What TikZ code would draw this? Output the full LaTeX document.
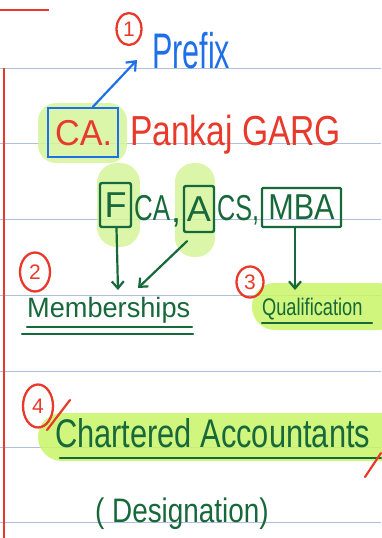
\documentclass[tikz,border=0pt]{standalone}
\usepackage{fontspec}
\setmainfont{Liberation Sans}
\usetikzlibrary{arrows.meta,shapes.geometric}
\definecolor{inkred}{HTML}{E8392B}
\definecolor{inkblue}{HTML}{1F6FE8}
\definecolor{inkgreen}{HTML}{17683A}
\definecolor{hl}{HTML}{D5F59A}
\definecolor{hlstrong}{HTML}{C8F467}
\definecolor{rulecol}{HTML}{AFC0DC}
\newcommand{\fs}[1]{\fontsize{#1}{#1}\selectfont}
\begin{document}
\begin{tikzpicture}[x=1pt,y=-1pt,
  rulel/.style={draw=rulecol, line width=1pt},
  hlblob/.style={fill=hl, opacity=0.85, rounded corners=18pt},
  gbox/.style={draw=inkgreen, line width=2.4pt, rounded corners=2pt, inner sep=0pt, text=inkgreen},
  garrow/.style={draw=inkgreen, line width=2.2pt, line cap=round, -{Straight Barb[length=7pt,width=12pt]}},
  num/.style={draw=inkred, line width=2.3pt, ellipse, inner sep=0pt, text=inkred, font=\fs{21}},
  gtext/.style={text=inkgreen, inner sep=0pt, anchor=base west},
  rtext/.style={text=inkred, inner sep=0pt, anchor=base west},
  uline/.style={draw=inkgreen, line width=2.4pt, line cap=round},
  slash/.style={draw=inkred, line width=2.2pt, line cap=round}
  ]
\useasboundingbox (0,0) rectangle (381,538);
\foreach \yy in {68,143,219,295,371,447,522} \draw[rulel] (0,\yy) -- (381,\yy);
\draw[inkred, line width=2.4pt] (4,68) -- (4,538);
\draw[inkred, line width=2.2pt] (0,10) -- (49,10);
% highlights
\fill[hlblob] (38,103) rectangle (127,163);
\fill[hlblob, rounded corners=20pt] (97,163) rectangle (140,247);
\fill[hlblob, rounded corners=19pt] (175,163) rectangle (215,257);
\fill[hlstrong, opacity=0.85, rounded corners=23pt] (252,283) rectangle (400,330);
\fill[hlstrong, opacity=0.85, rounded corners=24pt] (38,413) rectangle (405,461);
% top
\node[num, minimum width=25pt, minimum height=32pt] (n1) at (129,29) {1};
\node[text=inkblue, inner sep=0pt, anchor=base west, font=\fs{50}, xscale=0.61] (prefix) at (152,68) {Prefix};
\coordinate (prefixin) at (137,60);
\node[draw=inkblue, line width=2.6pt, inner sep=0pt, minimum width=70pt, minimum height=49pt] (cabox) at (83,132.5) {};
\node[rtext, font=\fs{36}, xscale=0.95] (ca) at (55,145) {CA.};
\node[rtext, font=\fs{42}, xscale=0.8] (name) at (130,145) {Pankaj GARG};
\draw[inkblue, line width=2.2pt, line cap=round, -{Straight Barb[length=8pt,width=13pt]}] ([xshift=10pt]cabox.north) -- (prefixin);
% degrees row
\node[gbox, minimum width=31pt, minimum height=44pt, font=\fs{36}] (fbox) at (115.5,205) {F};
\node[gtext, font=\fs{36}, xscale=0.72] (cafter) at (134,220) {CA};
\node[gtext, font=\fs{36}] (comma1) at (171,222) {,};
\node[gbox, minimum width=30pt, minimum height=46pt, font=\fs{36}] (abox) at (199,209) {A};
\node[gtext, font=\fs{36}, xscale=0.7] (csafter) at (217,220) {CS,};
\node[gbox, line width=2.2pt, rounded corners=1pt, minimum width=79pt, minimum height=39pt, font=\fs{36}] (mbabox) at (301.5,207.5) {\scalebox{0.85}[1]{MBA}};
% second level
\node[num, minimum width=30pt, minimum height=39pt] (n2) at (35,272) {2};
\node[gtext, font=\fs{28}, xscale=0.97] (memb) at (27,317) {Memberships};
\coordinate (membF) at (118,290);
\coordinate (membA) at (138,288);
\draw[uline] (27,327) -- (192,327);
\draw[uline] (22,334) -- (193,334);
\node[num, minimum width=27pt, minimum height=31pt] (n3) at (250,282) {3};
\node[gtext, font=\fs{24}, xscale=0.76] (qual) at (262,315) {Qualification};
\coordinate (qualin) at (295,290);
\draw[uline] (262,323) -- (372,323);
\draw[garrow] ([xshift=1pt]fbox.south) -- (membF);
\draw[garrow] ([xshift=-12pt,yshift=-8pt]abox.south) -- (membA);
\draw[garrow] ([xshift=-6.5pt]mbabox.south) -- (qualin);
% bottom
\node[num, minimum width=30pt, minimum height=43pt] (n4) at (38,406) {4};
\draw[slash] (47,430) -- (70,400);
\node[gtext, font=\fs{40}, xscale=0.77] (ca2) at (55,447) {Chartered Accountants};
\draw[uline] (60,458) -- (381,458);
\draw[slash] (365,477) -- (381,453);
\node[gtext, font=\fs{34}, xscale=0.82] (desig) at (95,522) {( Designation)};
\end{tikzpicture}
\end{document}
